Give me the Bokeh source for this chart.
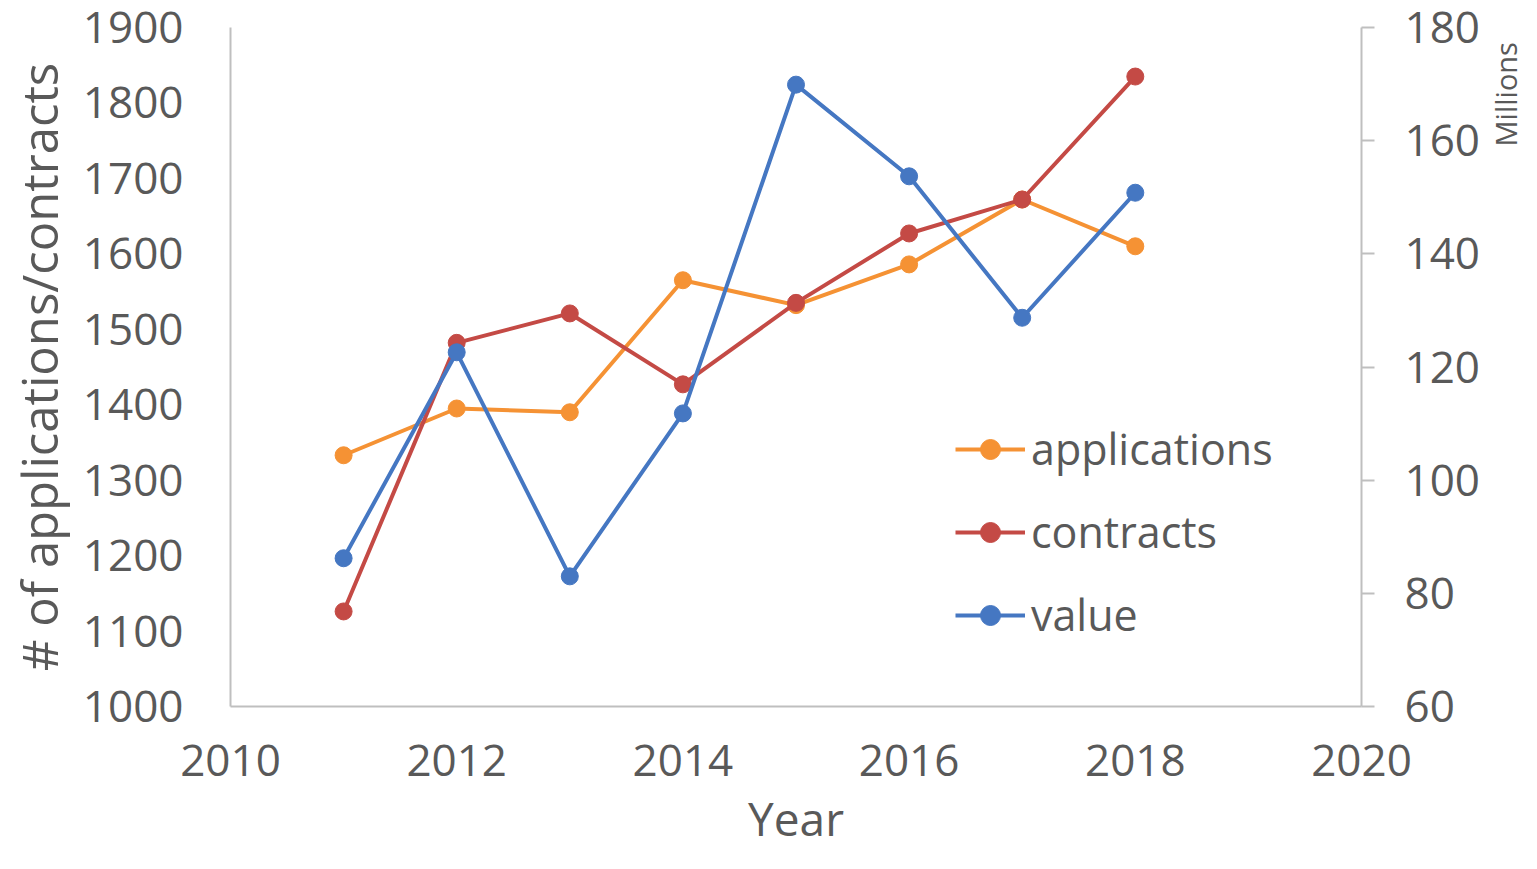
from bokeh.plotting import figure
from bokeh.models import (Range1d, LinearAxis, FixedTicker, Legend, LegendItem, Label)
from bokeh.embed import file_html
from bokeh.resources import INLINE
import math

years = [2011, 2012, 2013, 2014, 2015, 2016, 2017, 2018]
applications = [1333, 1395, 1390, 1565, 1532, 1586, 1672, 1610]
contracts = [1126, 1482, 1521, 1427, 1535, 1627, 1672, 1835]
value_millions = [86.2, 122.6, 83.0, 111.8, 169.9, 153.7, 128.7, 150.8]

x_ticks = [2010, 2012, 2014, 2016, 2018, 2020]
left_ticks = [1000, 1100, 1200, 1300, 1400, 1500, 1600, 1700, 1800, 1900]
right_ticks = [60, 80, 100, 120, 140, 160, 180]
unit_label = "Millions"
unit_label_mid = 168.2   # centre of the unit caption on the value scale

FONT = "Open Sans"
TXT = "#595959"
AX = "#bfbfbf"
C_APP = "#F59234"
C_CON = "#C44A45"
C_VAL = "#4577C2"

p = figure(width=1521, height=853, output_backend="svg", toolbar_location=None,
           x_range=Range1d(2010, 2020), y_range=Range1d(1000, 1900),
           min_border_left=230, min_border_right=156, min_border_top=27,
           min_border_bottom=147)
p.outline_line_color = None
p.grid.visible = False
p.background_fill_color = "white"
p.border_fill_color = "white"

p.extra_y_ranges = {"val": Range1d(60, 180)}

# x axis
xa = p.xaxis[0]
xa.ticker = FixedTicker(ticks=x_ticks)
xa.axis_label = "Year"
xa.major_tick_out = 0
xa.major_tick_in = 0
xa.minor_tick_out = 0
xa.minor_tick_in = 0
xa.axis_line_color = AX
xa.axis_line_width = 2
xa.major_label_text_font = FONT
xa.major_label_text_font_size = "44px"
xa.major_label_text_color = TXT
xa.major_label_standoff = 38
xa.axis_label_text_font = FONT
xa.axis_label_text_font_size = "46px"
xa.axis_label_text_font_style = "normal"
xa.axis_label_text_color = TXT
xa.axis_label_standoff = 8

# left axis
ya = p.yaxis[0]
ya.ticker = FixedTicker(ticks=left_ticks)
ya.axis_label = "# of applications/contracts"
ya.major_tick_out = 0
ya.major_tick_in = 0
ya.minor_tick_out = 0
ya.minor_tick_in = 0
ya.axis_line_color = AX
ya.axis_line_width = 2
ya.major_label_text_font = FONT
ya.major_label_text_font_size = "44px"
ya.major_label_text_color = TXT
ya.major_label_standoff = 47
ya.axis_label_text_font = FONT
ya.axis_label_text_font_size = "49px"
ya.axis_label_text_font_style = "normal"
ya.axis_label_text_color = TXT
ya.axis_label_standoff = 8

# right axis
ra = LinearAxis(y_range_name="val", ticker=FixedTicker(ticks=right_ticks))
ra.major_tick_out = 13
ra.major_tick_in = 0
ra.minor_tick_out = 0
ra.minor_tick_in = 0
ra.major_tick_line_color = AX
ra.major_tick_line_width = 2
ra.axis_line_color = AX
ra.axis_line_width = 2
ra.major_label_text_font = FONT
ra.major_label_text_font_size = "44px"
ra.major_label_text_color = TXT
ra.major_label_standoff = 30
p.add_layout(ra, "right")

# unit caption beside the value axis, placed in the right side panel
millions = Label(x=x_ticks[-1], y=unit_label_mid, y_range_name="val", text=unit_label,
                 angle=math.pi / 2, x_offset=144, y_offset=0,
                 text_align="center", text_baseline="middle",
                 text_font=FONT, text_font_size="29px", text_color=TXT)
p.add_layout(millions, "right")

# series
l1 = p.line(years, applications, line_color=C_APP, line_width=4)
s1 = p.scatter(years, applications, size=17, fill_color=C_APP, line_color=C_APP)
l2 = p.line(years, contracts, line_color=C_CON, line_width=4)
s2 = p.scatter(years, contracts, size=17, fill_color=C_CON, line_color=C_CON)
l3 = p.line(years, value_millions, line_color=C_VAL, line_width=4, y_range_name="val")
s3 = p.scatter(years, value_millions, size=17, fill_color=C_VAL, line_color=C_VAL,
               y_range_name="val")

legend = Legend(items=[
    LegendItem(label="applications", renderers=[l1, s1]),
    LegendItem(label="contracts", renderers=[l2, s2]),
    LegendItem(label="value", renderers=[l3, s3]),
], location=(725, 62))
legend.background_fill_alpha = 0
legend.border_line_color = None
legend.padding = 0
legend.margin = 0
legend.glyph_width = 70
legend.glyph_height = 50
legend.label_height = 50
legend.spacing = 24
legend.label_standoff = 6
legend.label_text_font = FONT
legend.label_text_font_size = "43px"
legend.label_text_color = TXT
p.add_layout(legend, "center")

open("out.html", "w").write(file_html(p, INLINE))
